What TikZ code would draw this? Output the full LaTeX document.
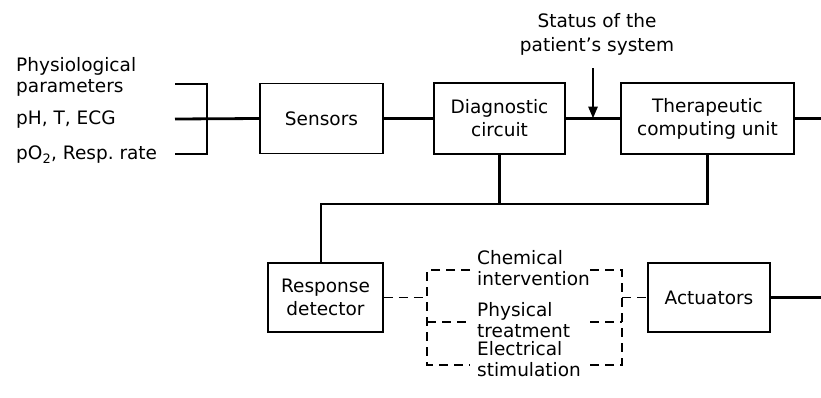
\documentclass[tikz,border=0pt]{standalone}
\usepackage{fontspec}
\setmainfont{DejaVu Sans}
\usetikzlibrary{arrows.meta}

\begin{document}
\begin{tikzpicture}[x=1pt, y=-1pt,
  font=\fontsize{18.5}{20.5}\selectfont,
  box/.style={draw, line width=1.6pt, align=center, inner sep=0pt, font=\fontsize{18.5}{23}\selectfont},
  wire/.style={line width=2.8pt},
  opt/.style={line width=1.4pt, dash pattern=on 9pt off 6pt},
  arr/.style={wire, -{Triangle[length=12pt,width=9pt]}},
  lbl/.style={align=left, anchor=west, inner sep=0pt}]
\useasboundingbox (0,0) rectangle (821,397);
% inputs
\node[lbl] (phys) at (16,77) {Physiological\\parameters};
\node[lbl] (ph) at (16,120) {pH, T, ECG};
\node[lbl] (po) at (16,155) {pO\textsubscript{2}, Resp.\ rate};
\coordinate (in1) at (175,84);
\coordinate (in2) at (175,119);
\coordinate (in3) at (175,154);
\coordinate (bus) at (207,119);
% upper chain
\node[box, minimum width=123, minimum height=70] (sensors) at (321.5,118.5) {Sensors};
\node[box, minimum width=131, minimum height=71] (diag) at (499.5,118.5) {Diagnostic\\circuit};
\node[box, minimum width=173, minimum height=71] (ther) at (707.5,118.5) {Therapeutic\\computing unit};
\node[align=center, inner sep=0pt, font=\fontsize{18.5}{24}\selectfont] (status) at (597,34) {Status of the\\patient's system};
\coordinate (tap) at (593,118.5);
\coordinate (out1) at (821,118.5);
% lower chain
\node[box, minimum width=115, minimum height=69] (resp) at (325.5,297.5) {Response\\detector};
\node[box, minimum width=122, minimum height=69] (act) at (709,297.5) {Actuators};
\node[lbl] (chem) at (477,268) {Chemical\\intervention};
\node[lbl] (treat) at (477,320) {Physical\\treatment};
\node[lbl] (elec) at (477,359) {Electrical\\stimulation};
\coordinate (jn) at (321,204);
\coordinate (brl) at (427,297.5);
\coordinate (brr) at (622,297.5);
\coordinate (out2) at (821,297.5);

\draw[wire] (in1) -| (bus);
\draw[wire] (in3) -| (bus);
\draw[wire] (in2) -- (sensors.west);
\draw[wire] (sensors) -- (diag);
\draw[wire] (diag) -- (ther);
\draw[wire] (ther.east) -- (out1);
\draw[arr] (tap |- 0,68) -- (tap);
\draw[wire] (diag.south) -- (diag.south |- jn);
\draw[wire] (ther.south) |- (jn) -- (jn |- resp.north);
\draw[opt] (resp.east) -- (brl);
\draw[opt] (470,270) -| (427,365) -- (470,365);
\draw[opt] (427,322) -- (470,322);
\draw[opt] (590,270) -| (622,365) -- (590,365);
\draw[opt] (590,322) -- (622,322);
\draw[opt] (brr) -- (act.west);
\draw[wire] (act.east) -- (out2);
\end{tikzpicture}
\end{document}
